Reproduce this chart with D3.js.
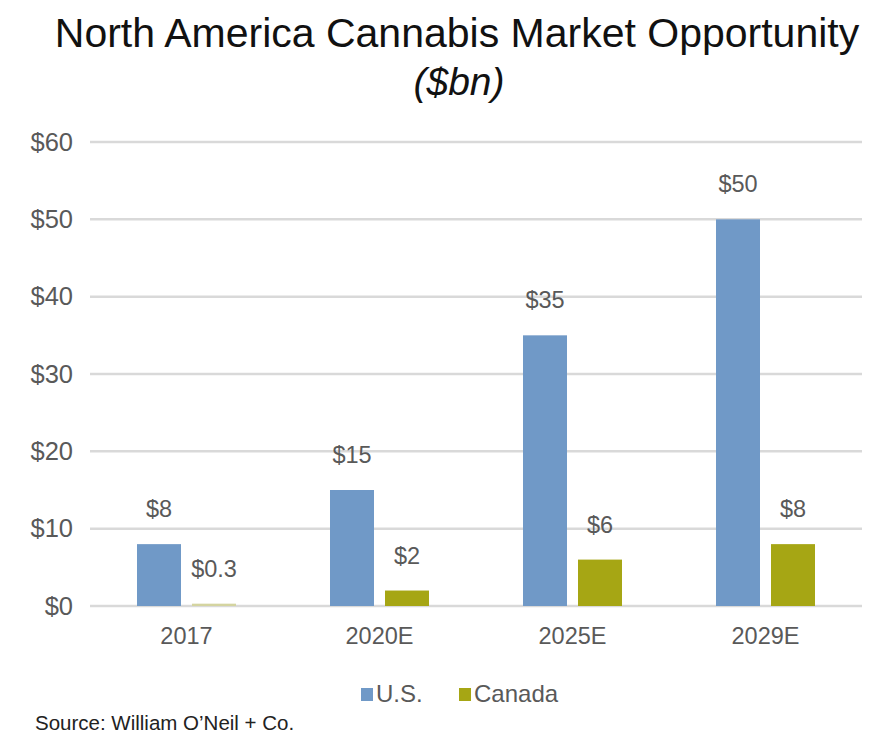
<!DOCTYPE html>
<html><head><meta charset="utf-8">
<script src="https://cdn.jsdelivr.net/npm/d3@7"></script>
<style>body{margin:0;background:#fff}svg{display:block}text{font-family:"Liberation Sans",Arial,sans-serif}</style>
</head><body>
<script>
const categories = ["2017", "2020E", "2025E", "2029E"];
const seriesNames = ["U.S.", "Canada"];
const usValues = [8, 15, 35, 50];
const canadaValues = [0.3, 2, 6, 8];
const valueLabels = {"U.S.": ["$8", "$15", "$35", "$50"], "Canada": ["$0.3", "$2", "$6", "$8"]};
const yTicks = [0, 10, 20, 30, 40, 50, 60];
const colors = {"U.S.": "#7099c7", "Canada": "#a6a614"};

const W = 884, H = 733;
const svg = d3.select("body").append("svg").attr("width", W).attr("height", H);

const plotLeft = 90, plotRight = 862, plotTop = 142, plotBottom = 606;
const y = d3.scaleLinear().domain([0, 60]).range([plotBottom, plotTop]);
const x0 = d3.scaleBand().domain(categories).range([plotLeft, plotRight]).paddingInner(0.487).paddingOuter(0.2435);
const x1 = d3.scaleBand().domain(seriesNames).range([0, x0.bandwidth()]).paddingInner(0.2);

// Title
svg.append("text").attr("x", 457).attr("y", 47).attr("text-anchor", "middle")
  .attr("font-size", 41).attr("fill", "#111").text("North America Cannabis Market Opportunity");
svg.append("text").attr("x", 459).attr("y", 95).attr("text-anchor", "middle")
  .attr("font-size", 39).attr("font-style", "italic").attr("fill", "#111").text("($bn)");

// Grid lines
svg.append("g").selectAll("line").data(yTicks).join("line")
  .attr("x1", plotLeft).attr("x2", plotRight)
  .attr("y1", d => y(d)).attr("y2", d => y(d))
  .attr("stroke", "#d9d9d9").attr("stroke-width", 2.5);

// Y axis labels
const yAxis = d3.axisLeft(y).tickValues(yTicks).tickFormat(d => "$" + d).tickSize(0).tickPadding(0);
const gy = svg.append("g").attr("transform", `translate(${plotLeft - 17},0)`).call(yAxis);
gy.select(".domain").remove();
gy.selectAll("text").attr("font-size", 25.5).attr("fill", "#595959").attr("font-family", '"Liberation Sans",Arial,sans-serif');

// X axis labels
const xAxis = d3.axisBottom(x0).tickSize(0).tickPadding(0);
const gx = svg.append("g").attr("transform", `translate(0,${plotBottom + 21})`).call(xAxis);
gx.select(".domain").remove();
gx.selectAll("text").attr("font-size", 23.5).attr("fill", "#595959").attr("font-family", '"Liberation Sans",Arial,sans-serif');

// Bars
const data = [];
categories.forEach((c, i) => {
  data.push({cat: c, s: "U.S.", v: usValues[i], label: valueLabels["U.S."][i]});
  data.push({cat: c, s: "Canada", v: canadaValues[i], label: valueLabels["Canada"][i]});
});
svg.append("g").selectAll("rect").data(data).join("rect")
  .attr("x", d => x0(d.cat) + x1(d.s))
  .attr("width", x1.bandwidth())
  .attr("y", d => y(d.v))
  .attr("height", d => y(0) - y(d.v))
  .attr("fill", d => d.s === "Canada" && d.v < 1 ? "#d4d4a0" : colors[d.s]);

svg.append("g").selectAll("text").data(data).join("text")
  .attr("x", d => x0(d.cat) + x1(d.s) + x1.bandwidth() / 2)
  .attr("y", d => y(d.v) - 27)
  .attr("text-anchor", "middle").attr("font-size", 23.5).attr("fill", "#595959")
  .text(d => d.label);

// Legend
const legend = svg.append("g");
const legendItems = [{s: "U.S.", x: 361}, {s: "Canada", x: 459}];
legendItems.forEach(it => {
  legend.append("rect").attr("x", it.x).attr("y", 688).attr("width", 12).attr("height", 13).attr("fill", colors[it.s]);
  legend.append("text").attr("x", it.x + 15).attr("y", 702).attr("font-size", 24).attr("fill", "#595959").text(it.s);
});

// Source
svg.append("text").attr("x", 35).attr("y", 730).attr("font-size", 20.5).attr("fill", "#222")
  .text("Source: William O\u2019Neil + Co.");
</script>
</body></html>
